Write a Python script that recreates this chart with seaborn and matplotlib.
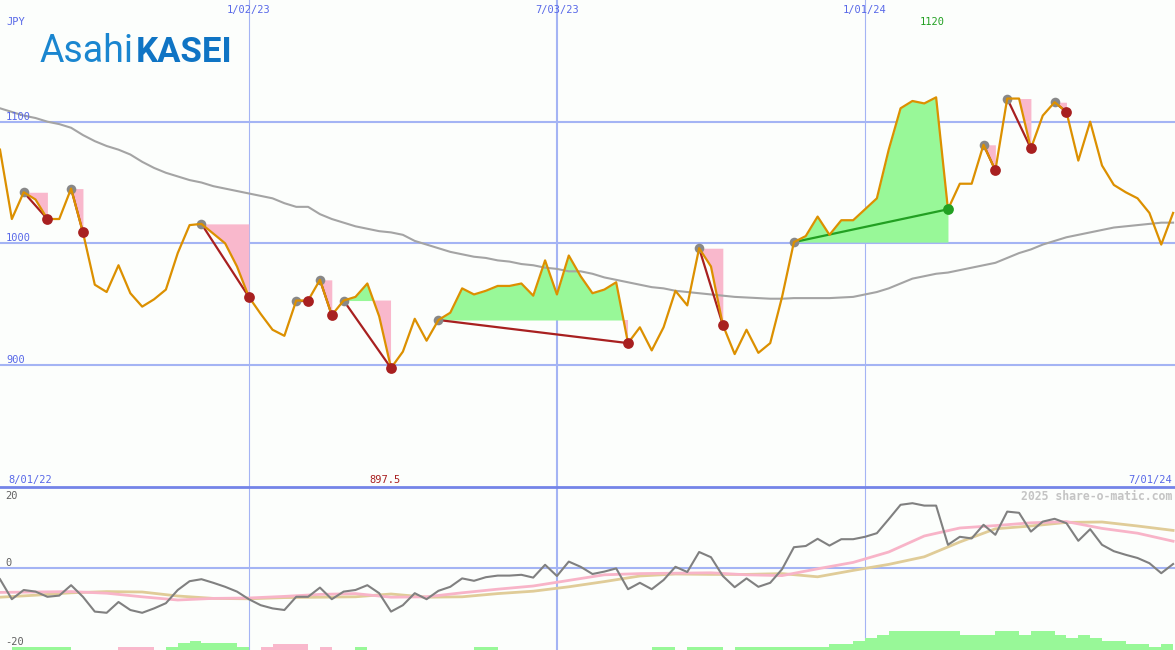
import numpy as np
import pandas as pd
import matplotlib
matplotlib.use("Agg")
import matplotlib.pyplot as plt
import seaborn as sns
from matplotlib.lines import Line2D

W, H = 1175, 650

# ---------------- data ----------------
start_date = "2022-08-08"
n_weeks = 100

price = [1077, 1020, 1042, 1036, 1020, 1020, 1045, 1009, 966, 960,
         982, 959, 948, 954, 962, 992, 1015, 1016, 1008, 1000,
         981, 956, 942, 929, 924, 953, 953, 970, 941, 953,
         956, 967, 940, 897.5, 911, 938, 920, 937, 943, 963,
         958, 961, 965, 965, 967, 957, 986, 958, 990, 973,
         959, 962, 968, 918, 931, 912, 931, 961, 949, 996,
         981, 933, 909, 929, 910, 918, 956, 1001, 1006, 1022,
         1007, 1019, 1019, 1028, 1037, 1077, 1111, 1117, 1115, 1120,
         1028, 1049, 1049, 1081, 1060, 1119, 1119, 1078, 1105, 1116,
         1108, 1068, 1100, 1064, 1048, 1042, 1037, 1025, 999, 1025]

moving_avg = [1111, 1108, 1105, 1103, 1100, 1098, 1095, 1089, 1084, 1080,
              1077, 1073, 1067, 1062, 1058, 1055, 1052, 1050, 1047, 1045,
              1043, 1041, 1039, 1037, 1033, 1030, 1030, 1024, 1020, 1017,
              1014, 1012, 1010, 1009, 1007, 1002, 999, 996, 993, 991,
              989, 988, 986, 985, 983, 982, 980, 979, 977, 977,
              975, 972, 970, 968, 966, 964, 963, 961, 960, 959,
              958, 957, 956, 955.5, 955, 954.5, 954.5, 955, 955, 955,
              955, 955.5, 956, 958, 960, 963, 967, 971, 973, 975,
              976, 978, 980, 982, 984, 988, 992, 995, 999, 1002,
              1005, 1007, 1009, 1011, 1013, 1014, 1015, 1016, 1017, 1017]

# signal events: (peak week, end week)
sell_events = [(2, 4), (6, 7), (17, 21), (25, 26), (27, 28), (29, 33),
               (37, 53), (59, 61), (83, 84), (85, 87), (89, 90)]
buy_events = [(67, 80)]

price_ticks = [900, 1000, 1100]
date_lines = ["2023-01-02", "2023-07-03", "2024-01-01"]
date_labels = ["1/02/23", "7/03/23", "1/01/24"]
start_label = "8/01/22"
end_label = "7/01/24"
currency = "JPY"

# lower panel
oscillator = [-2.8, -7.8, -5.5, -5.9, -7.2, -6.9, -4.3, -7.2, -10.9, -11.2,
              -8.5, -10.5, -11.2, -10.1, -8.8, -5.5, -3.3, -2.8, -3.7, -4.7,
              -5.9, -7.8, -9.3, -10.1, -10.5, -7.2, -7.2, -4.9, -7.8, -5.9,
              -5.5, -4.3, -6.3, -10.9, -9.3, -6.3, -7.8, -5.7, -4.7, -2.6,
              -3.2, -2.3, -1.9, -1.9, -1.7, -2.4, 0.8, -2.0, 1.6, 0.3,
              -1.5, -0.9, -0.1, -5.3, -3.7, -5.3, -3.0, 0.3, -1.0, 4.0,
              2.7, -2.0, -4.8, -2.6, -4.7, -3.7, -0.3, 5.2, 5.5, 7.3,
              5.6, 7.2, 7.2, 7.8, 8.7, 12.2, 15.8, 16.2, 15.6, 15.6,
              5.8, 7.8, 7.4, 10.8, 8.3, 14.1, 13.8, 9.1, 11.6, 12.3,
              11.2, 6.8, 9.7, 5.8, 4.2, 3.3, 2.5, 1.2, -1.3, 1.0]

smooth_step = 3  # smoothed lines read every 3rd week
osc_pink = [-6.1, -6.0, -5.9, -6.3, -7.2, -8.0, -7.6, -7.5, -7.1, -6.6,
            -6.4, -7.3, -7.2, -6.2, -5.3, -4.5, -3.1, -1.7, -1.4, -1.3,
            -1.2, -1.7, -1.9, -0.2, 1.4, 4.0, 8.0, 10.0, 10.6, 11.3,
            11.6, 9.9, 8.7, 6.7]
osc_tan = [-7.3, -6.8, -6.2, -5.9, -6.0, -7.0, -7.6, -7.7, -7.4, -7.3,
           -7.2, -6.5, -7.3, -7.2, -6.4, -5.8, -4.7, -3.4, -2.0, -1.5,
           -1.6, -1.6, -1.4, -2.2, -0.6, 0.9, 2.8, 6.5, 9.8, 10.5,
           11.4, 11.5, 10.5, 9.4]

histogram = [0, .75, .75, .75, .75, .75, 0, 0, 0, 0,
             -.75, -.75, -.75, 0, .75, 1.75, 2.25, 1.75, 1.75, 1.75,
             .75, 0, -.75, -1.5, -1.5, -1.5, 0, -.75, 0, 0,
             .75, 0, 0, 0, 0, 0, 0, 0, 0, 0,
             .75, .75, 0, 0, 0, 0, 0, 0, 0, 0,
             0, 0, 0, 0, 0, .75, .75, 0, .75, .75,
             .75, 0, .75, .75, .75, .75, .75, .75, .75, .75,
             1.5, 1.5, 2.25, 3, 3.75, 4.75, 4.75, 4.75, 4.75, 4.75,
             4.75, 3.75, 3.75, 3.75, 4.75, 4.75, 3.75, 4.75, 4.75, 3.75,
             3, 3.75, 2.9, 2.25, 2.25, 1.5, 1.5, .75, 1.5, 0]
osc_ticks = [20, 0, -20]
watermark = "2025 share-o-matic.com"

# ---------------- styles ----------------
BG = "#fcfefc"
GRID = "#a4b4f4"
BORDER = "#7484e8"
LBL = "#5868e8"
ORANGE = "#dc9000"
MA_GRAY = "#a4a4a4"
PEAK_GRAY = "#888888"
RED = "#a82020"
GREEN = "#22a022"
PINK_FILL = "#f9b8cc"
GREEN_FILL = "#98f898"
OSC_GRAY = "#808080"
OSC_PINK = "#f8b4c8"
OSC_TAN = "#e0cc98"
LOGO = "#1a86d0"
MONO = "DejaVu Sans Mono"

dates = pd.date_range(start_date, periods=n_weeks, freq="7D")
p = np.array(price, dtype=float)
x_lo = dates[0]
x_hi = dates[0] + pd.Timedelta(days=7 * 99.16)

fig = plt.figure(figsize=(W / 100, H / 100), dpi=100)
fig.patch.set_facecolor(BG)
split = 163 / H
ax = fig.add_axes([0, split, 1, 1 - split])
ax2 = fig.add_axes([0, 0, 1, split])

# ---------------- top panel ----------------
for v in price_ticks:
    ax.axhline(v, color=GRID, lw=1.5, zorder=0)
line_w = [0.8, 1.5, 0.8]
for d, w in zip(date_lines, line_w):
    ax.axvline(pd.Timestamp(d), color=GRID, lw=w, zorder=0)
    ax2.axvline(pd.Timestamp(d), color=GRID, lw=w, zorder=0)

all_events = [(a, b, "sell") for a, b in sell_events] + [(a, b, "buy") for a, b in buy_events]
for a, b, kind in all_events:
    xs = dates[a:b + 1]
    ys = p[a:b + 1]
    lvl = p[a]
    if kind == "buy":
        ax.fill_between(xs, ys, lvl, color=GREEN_FILL, lw=0, zorder=1)
    else:
        ax.fill_between(xs, ys, lvl, where=ys >= lvl, interpolate=True,
                        color=GREEN_FILL, lw=0, zorder=1)
        ax.fill_between(xs, ys, lvl, where=ys <= lvl, interpolate=True,
                        color=PINK_FILL, lw=0, zorder=1)

sns.lineplot(x=dates, y=moving_avg, ax=ax, color=MA_GRAY, lw=1.5, zorder=2)

for a, b, kind in all_events:
    ax.plot([dates[a], dates[b]], [p[a], p[b]],
            color=GREEN if kind == "buy" else RED, lw=1.6, zorder=3)

peaks = [a for a, b, k in all_events]
sns.scatterplot(x=dates[peaks], y=p[peaks], ax=ax, color=PEAK_GRAY, s=48,
                linewidth=0, zorder=3)
sns.lineplot(x=dates, y=p, ax=ax, color=ORANGE, lw=1.6, zorder=4)
sells = [b for a, b in sell_events]
buys = [b for a, b in buy_events]
sns.scatterplot(x=dates[sells], y=p[sells], ax=ax, color=RED, s=60,
                linewidth=0, zorder=5)
sns.scatterplot(x=dates[buys], y=p[buys], ax=ax, color=GREEN, s=60,
                linewidth=0, zorder=5)

ax.set_xlim(x_lo, x_hi)
ax.set_ylim(799.75, 1200)

# ---------------- bottom panel ----------------
ax2.axhline(0, color=GRID, lw=1.5, zorder=0)
h = np.array(histogram)
nz = h != 0
ax2.bar(dates[nz], np.abs(h[nz]), width=7, align="edge", bottom=-20.5,
        color=[GREEN_FILL if v > 0 else PINK_FILL for v in h[nz]], lw=0, zorder=1)
sdates = dates[::smooth_step]
sns.lineplot(x=sdates, y=osc_tan, ax=ax2, color=OSC_TAN, lw=2, zorder=2)
sns.lineplot(x=sdates, y=osc_pink, ax=ax2, color=OSC_PINK, lw=2, zorder=3)
sns.lineplot(x=dates, y=oscillator, ax=ax2, color=OSC_GRAY, lw=1.5, zorder=4)
ax2.set_xlim(x_lo, x_hi)
ax2.set_ylim(-20.5, 20.25)

for a_ in (ax, ax2):
    a_.set_facecolor(BG)
    for s in a_.spines.values():
        s.set_visible(False)
    a_.set_xticks([])
    a_.set_yticks([])
    a_.set_xlabel("")
    a_.set_ylabel("")

fig.add_artist(Line2D([0, 1], [split, split], transform=fig.transFigure,
                      color=BORDER, lw=2, zorder=10))

# ---------------- texts ----------------
def fx(x):
    return x / W

def fy(y):
    return 1 - y / H

fs = 7.5
fig.text(fx(6), fy(25), currency, color=LBL, fontsize=fs, family=MONO, va="baseline")
for v in price_ticks:
    ax.annotate(str(v), xy=(0, v), xycoords=("axes fraction", "data"),
                xytext=(6, 2), textcoords="offset pixels", color=LBL,
                fontsize=fs, family=MONO, va="baseline")
for d, lab in zip(date_lines, date_labels):
    ax.annotate(lab, xy=(pd.Timestamp(d), 1), xycoords=("data", "axes fraction"),
                xytext=(0, -13), textcoords="offset pixels", color=LBL,
                fontsize=fs, family=MONO, ha="center", va="baseline")
fig.text(fx(8), fy(483), start_label, color=LBL, fontsize=fs, family=MONO, va="baseline")
fig.text(fx(1172), fy(483), end_label, color=LBL, fontsize=fs, family=MONO,
         va="baseline", ha="right")
imin = int(np.argmin(p))
imax = int(np.argmax(p))
ax.annotate(f"{p[imin]:g}", xy=(dates[imin], 0), xycoords=("data", "axes fraction"),
            xytext=(-6, 4), textcoords="offset pixels", color=RED, fontsize=fs,
            family=MONO, ha="center", va="baseline")
ax.annotate(f"{p[imax]:g}", xy=(dates[imax], 1), xycoords=("data", "axes fraction"),
            xytext=(-4, -25), textcoords="offset pixels", color=GREEN, fontsize=fs,
            family=MONO, ha="center", va="baseline")
for v, yb in zip(osc_ticks, [499, 566, 645]):
    fig.text(fx(5), fy(yb), str(v), color="#606060", fontsize=fs, family=MONO, va="baseline")
fig.text(fx(1172), fy(500), watermark, color="#c4c4c4", fontsize=8.3, family=MONO,
         weight="bold", ha="right", va="baseline")

# logo
t1 = fig.text(fx(40), fy(62), "Asahi", color=LOGO, fontsize=27, family="Roboto",
              va="baseline")
fig.canvas.draw()
bb = t1.get_window_extent()
fig.text(bb.x1 / W + 2 / W, fy(62), "KASEI", color="#0f74c4", fontsize=25,
         family="Roboto", weight="bold", va="baseline")

fig.savefig("out.png", dpi=100, facecolor=BG)
